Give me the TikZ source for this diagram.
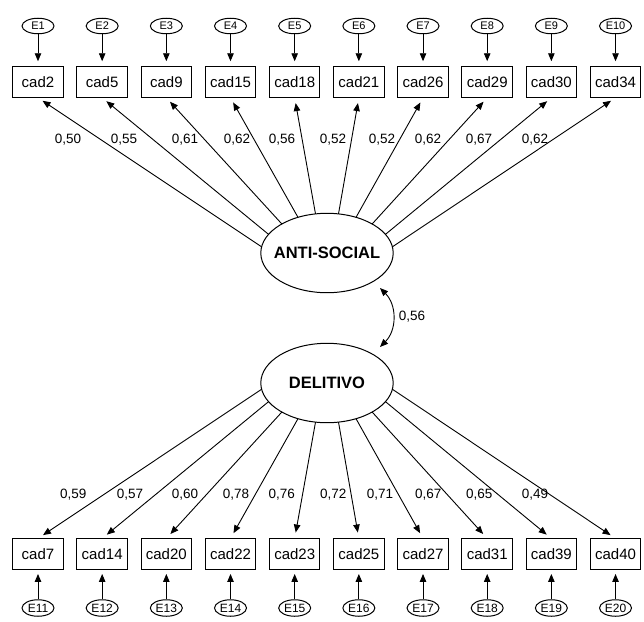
\documentclass[tikz,border=0pt]{standalone}
\usepackage{fontspec}
\setmainfont{Liberation Sans}
\usetikzlibrary{arrows.meta,calc,shapes.geometric}
\begin{document}
\begin{tikzpicture}[x=1pt,y=-1pt,
 obs/.style={draw,line width=1pt,minimum width=50.6pt,minimum height=30.5pt,inner sep=0pt,font=\fontsize{15}{18}\selectfont},
 err/.style={draw,ellipse,line width=1pt,minimum width=32pt,minimum height=15.5pt,inner sep=0pt,font=\fontsize{11}{12}\selectfont},
 errb/.style={err,minimum height=16.5pt,font=\fontsize{12}{14}\selectfont},
 lat/.style={draw,ellipse,line width=1pt,minimum width=132.4pt,minimum height=79.4pt,inner sep=0pt,font=\bfseries\fontsize{16.5}{20}\selectfont},
 pth/.style={line width=0.9pt,-{Triangle[length=8pt,width=6.5pt]}},
 dbl/.style={line width=0.9pt,{Triangle[length=8pt,width=6.5pt]}-{Triangle[length=8pt,width=6.5pt]}},
 coef/.style={font=\fontsize{13.5}{16}\selectfont,inner sep=0pt}
]
\useasboundingbox (0,0) rectangle (644,621);

\node[lat] (AS) at (327,253) {\makebox[0pt]{ANTI-SOCIAL}};
\node[lat] (DL) at (327,383) {\makebox[0pt]{DELITIVO}};

\foreach \lab [count=\i] in {2,5,9,15,18,21,26,29,30,34} {
  \node[obs] (t\i) at ({38+64.17*(\i-1)},82) {cad\lab};
  \node[err] (e\i) at ({38+64.17*(\i-1)},26) {\makebox[0pt]{E\i}};
  \draw[pth,shorten >=5pt] (e\i) -- (t\i);
}
\foreach \lab [count=\i] in {7,14,20,22,23,25,27,31,39,40} {
  \pgfmathtruncatemacro\k{\i+10}
  \node[obs] (b\i) at ({38+64.17*(\i-1)},554.2) {cad\lab};
  \node[errb] (f\i) at ({38+64.17*(\i-1)},608) {\makebox[0pt]{E\k}};
  \draw[pth,shorten >=4pt] (f\i) -- (b\i);
}
\foreach \t [count=\i] in {171,152,133,116,100,80,64,47,28,9} {
  \coordinate (as\i) at ($(AS)+({66.2*cos(\t)},{-39.7*sin(\t)})$);
  \coordinate (dl\i) at ($(DL)+({66.2*cos(\t)},{39.7*sin(\t)})$);
  \draw[pth,shorten >=5.4pt] (as\i) -- (t\i.south);
  \draw[pth,shorten >=6pt] (dl\i) -- (b\i.north);
}
\foreach \x/\v in {68/50,124/55,185/61,237/62,282/56,333/52,382/52,428/62,479/67,535/62} {
  \node[coef] (ct\x) at (\x,140) {0,\v};
}
\foreach \x/\v in {73.3/59,130/57,185/60,236/78,281.7/76,333.3/72,380/71,428.3/67,479.3/65,535/49} {
  \node[coef] (cb\x) at (\x,495) {0,\v};
}
\coordinate (cA) at (380,288);
\coordinate (cB) at (380,347);
\draw[dbl] (cA) .. controls (397,305) and (397,330) .. (cB);
\node[coef] (cr) at (412,317) {0,56};
\end{tikzpicture}
\end{document}
